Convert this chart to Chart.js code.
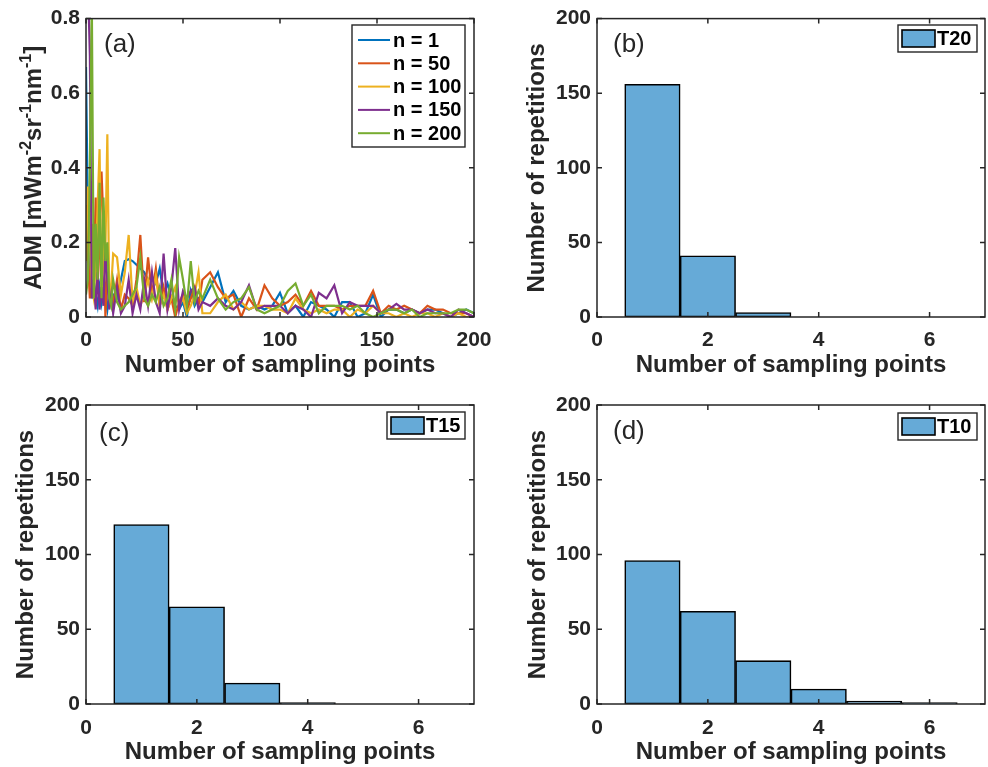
<!DOCTYPE html>
<html>
<head>
<meta charset="utf-8">
<script src="https://cdn.jsdelivr.net/npm/chart.js@4.4.1/dist/chart.umd.min.js"></script>
<style>
  body { margin: 0; background: #fff; }
  #wrap { position: relative; width: 988px; height: 767px; overflow: hidden; }
  canvas { position: absolute; }
</style>
</head>
<body>
<div id="wrap">
  <canvas id="pa" width="494" height="385" style="left:0;top:0"></canvas>
  <canvas id="pb" width="494" height="385" style="left:494px;top:0"></canvas>
  <canvas id="pc" width="494" height="382" style="left:0;top:385px"></canvas>
  <canvas id="pd" width="494" height="382" style="left:494px;top:385px"></canvas>
</div>
<script>
// sampling points (x) shared by the five ADM curves
const sampPts = [0,1,2,3,4,5,6,7,8,9,10,11,12,13,14,
  16,18,20,22,24,26,28,30,32,34,36,38,40,42,44,46,48,50,52,54,56,58,60,
  64,68,72,76,80,84,88,92,96,100,104,108,112,116,120,124,128,132,136,140,144,148,152,156,160,164,168,172,176,180,184,188,192,196,200];

const adm1 = [0.67,0.25,0.12,0.05,0.10,0.06,0.03,0.08,0.04,0.09,0.05,0.02,0.07,0.04,0.06,
  0.05,0.10,0.15,0.155,0.15,0.14,0.13,0.12,0.10,0.11,0.09,0.13,0.06,0.09,0.05,0.03,0.02,0.04,0.00,0.07,0.03,0.05,0.04,
  0.08,0.12,0.04,0.07,0.03,0.02,0.03,0.02,0.03,0.065,0.01,0.03,0.00,0.04,0.03,0.02,0.00,0.04,0.04,0.00,
  0.01,0.06,0.00,0.02,0.02,0.01,0.02,0.01,0.02,0.02,0.01,0.00,0.01,0.02,0.01];
const adm50 = [0.30,0.15,0.05,0.25,0.10,0.32,0.08,0.20,0.39,0.25,0.00,0.12,0.05,0.08,0.03,
  0.10,0.02,0.06,0.05,0.03,0.10,0.22,0.04,0.16,0.06,0.13,0.03,0.08,0.02,0.05,0.00,0.04,0.06,0.02,0.05,0.08,0.03,0.10,
  0.12,0.08,0.05,0.06,0.00,0.05,0.02,0.085,0.05,0.03,0.04,0.06,0.03,0.07,0.03,0.03,0.03,0.02,0.03,0.03,
  0.03,0.07,0.01,0.03,0.02,0.03,0.02,0.01,0.03,0.02,0.02,0.01,0.01,0.01,0.00];
const adm100 = [0.15,0.35,0.20,0.08,0.05,0.15,0.30,0.45,0.05,0.20,0.18,0.49,0.05,0.08,0.17,
  0.16,0.06,0.12,0.22,0.04,0.08,0.03,0.06,0.10,0.05,0.11,0.03,0.06,0.02,0.05,0.08,0.03,0.05,0.01,0.03,0.06,0.12,0.01,
  0.01,0.04,0.06,0.02,0.04,0.02,0.03,0.03,0.02,0.02,0.01,0.05,0.02,0.01,0.02,0.01,0.02,0.02,0.00,0.02,
  0.01,0.03,0.01,0.01,0.00,0.01,0.00,0.01,0.01,0.00,0.01,0.00,0.01,0.00,0.00];
const adm150 = [0.85,0.90,0.70,0.05,0.10,0.02,0.12,0.02,0.08,0.03,0.18,0.10,0.02,0.06,0.01,
  0.08,0.01,0.03,0.10,0.01,0.06,0.02,0.10,0.03,0.12,0.04,0.01,0.17,0.02,0.08,0.185,0.02,0.07,0.05,0.07,0.08,0.02,0.04,
  0.03,0.05,0.03,0.02,0.04,0.085,0.02,0.03,0.03,0.03,0.01,0.03,0.02,0.00,0.065,0.05,0.085,0.01,0.04,0.03,
  0.03,0.03,0.01,0.02,0.035,0.02,0.02,0.01,0.02,0.01,0.01,0.00,0.02,0.01,0.00];
const adm200 = [0.06,0.10,0.40,0.85,0.05,0.25,0.10,0.36,0.05,0.32,0.15,0.20,0.05,0.03,0.10,
  0.04,0.02,0.03,0.04,0.06,0.08,0.16,0.05,0.03,0.06,0.04,0.08,0.03,0.05,0.10,0.02,0.16,0.10,0.03,0.15,0.04,0.07,0.05,
  0.10,0.05,0.02,0.04,0.05,0.08,0.02,0.01,0.02,0.03,0.07,0.09,0.03,0.06,0.01,0.03,0.03,0.03,0.02,0.03,
  0.01,0.00,0.01,0.02,0.02,0.01,0.02,0.00,0.01,0.01,0.01,0.01,0.02,0.02,0.01];

const seriesLabels = ['n = 1', 'n = 50', 'n = 100', 'n = 150', 'n = 200'];
const seriesColors = ['#0072BD', '#D95319', '#EDB120', '#7E2F8E', '#77AC30'];

// histogram counts, bins centred on 1..6 sampling points
const binCenters = [1, 2, 3, 4, 5, 6];
const countsT20 = [156, 41, 3];
const countsT15 = [120, 65, 14, 1];
const countsT10 = [96, 62, 29, 10, 2, 1];

const FONT = '"Liberation Sans", Arial, Helvetica, sans-serif';
const INK = '#262626';
const BAR = 'rgb(102,170,215)';

// MATLAB-like box, inward ticks, panel tag and legend inside the axes
const frame = {
  id: 'frame',
  afterDatasetsDraw(chart) {
    const { ctx, chartArea: a, scales } = chart;
    const o = chart.options.plugins.frame;
    ctx.save();
    ctx.strokeStyle = INK; ctx.lineWidth = 1.5;
    ctx.strokeRect(a.left, a.top, a.right - a.left, a.bottom - a.top);
    const L = 5;
    ctx.beginPath();
    scales.x.ticks.forEach(t => {
      const p = scales.x.getPixelForValue(t.value);
      ctx.moveTo(p, a.bottom); ctx.lineTo(p, a.bottom - L);
      ctx.moveTo(p, a.top); ctx.lineTo(p, a.top + L);
    });
    scales.y.ticks.forEach(t => {
      const p = scales.y.getPixelForValue(t.value);
      ctx.moveTo(a.left, p); ctx.lineTo(a.left + L, p);
      ctx.moveTo(a.right, p); ctx.lineTo(a.right - L, p);
    });
    ctx.stroke();

    // panel tag
    ctx.fillStyle = INK;
    ctx.font = '26px ' + FONT;
    ctx.textBaseline = 'middle'; ctx.textAlign = 'left';
    ctx.fillText(o.tag, o.tagX, o.tagY);

    // legend
    const lg = o.legend;
    ctx.fillStyle = '#fff';
    ctx.fillRect(lg.x, lg.y, lg.w, lg.h);
    ctx.lineWidth = 1.4; ctx.strokeStyle = INK;
    ctx.strokeRect(lg.x, lg.y, lg.w, lg.h);
    ctx.font = 'bold 20px ' + FONT;
    chart.data.datasets.forEach((ds, i) => {
      if (lg.kind === 'line') {
        const ry = lg.y + 15 + i * 23.3;
        ctx.strokeStyle = ds.borderColor; ctx.lineWidth = 2;
        ctx.beginPath(); ctx.moveTo(lg.x + 6, ry); ctx.lineTo(lg.x + 38, ry); ctx.stroke();
        ctx.fillStyle = '#000';
        ctx.fillText(ds.label, lg.x + 41, ry + 1);
      } else {
        ctx.fillStyle = ds.backgroundColor;
        ctx.fillRect(lg.x + 4, lg.y + 5, 33, 17);
        ctx.strokeStyle = '#000'; ctx.lineWidth = 1.6;
        ctx.strokeRect(lg.x + 4, lg.y + 5, 33, 17);
        ctx.fillStyle = '#000';
        ctx.fillText(ds.label, lg.x + 39, lg.y + 14.5);
      }
    });

    // y title with superscripts (panel a)
    if (o.ytitle) {
      const mid = (a.top + a.bottom) / 2;
      const big = 'bold 24px ' + FONT, small = 'bold 16px ' + FONT;
      let total = 0;
      o.ytitle.forEach(([s, sup]) => { ctx.font = sup ? small : big; total += ctx.measureText(s).width; });
      ctx.translate(o.ytitleX, mid);
      ctx.rotate(-Math.PI / 2);
      ctx.textBaseline = 'alphabetic'; ctx.fillStyle = INK;
      let u = -total / 2;
      o.ytitle.forEach(([s, sup]) => {
        ctx.font = sup ? small : big;
        ctx.fillText(s, u, sup ? -2 : 8);
        u += ctx.measureText(s).width;
      });
    }
    ctx.restore();
  }
};

function xAxis(h, min, max, step, title, tickPad, titlePad) {
  return {
    type: 'linear', min, max, offset: false,
    grid: { display: false, drawTicks: false, offset: false },
    border: { display: false },
    ticks: { stepSize: step, includeBounds: false, padding: tickPad, color: INK, font: { family: FONT, size: 21, weight: 'bold' } },
    title: { display: true, text: title, color: INK, padding: { top: 0, bottom: titlePad },
      font: { family: FONT, size: 24, weight: 'bold', lineHeight: 1.2 } },
    // fixed height; let end labels overhang instead of shrinking the plot box
    afterFit: s => { s.height = h; s.paddingLeft = 0; s.paddingRight = 0; }
  };
}

function yAxis(w, min, max, step, title, titlePad) {
  return {
    min, max,
    grid: { display: false, drawTicks: false },
    border: { display: false },
    ticks: { stepSize: step, padding: 6, color: INK, font: { family: FONT, size: 21, weight: 'bold' } },
    title: { display: !!title, text: title, color: INK, padding: { top: titlePad, bottom: 0 },
      font: { family: FONT, size: 24, weight: 'bold', lineHeight: 1.2 } },
    afterFit: s => { s.width = w; }
  };
}

// panel (a)
const admSeries = [adm1, adm50, adm100, adm150, adm200];
new Chart(document.getElementById('pa'), {
  type: 'line',
  data: {
    datasets: admSeries.map((vals, i) => ({
      label: seriesLabels[i],
      data: sampPts.map((x, k) => ({ x, y: vals[k] })),
      borderColor: seriesColors[i],
      borderWidth: 2.2,
      pointRadius: 0,
      tension: 0,
      order: 5 - i
    }))
  },
  options: {
    responsive: false, animation: false, events: [],
    layout: { padding: { top: 16, right: 20, left: 0, bottom: 0 } },
    scales: {
      x: xAxis(68, 0, 200, 50, 'Number of sampling points', 11, 5.6),
      y: yAxis(86, 0, 0.8, 0.2, '', 0)
    },
    plugins: {
      legend: { display: false }, tooltip: { enabled: false },
      frame: {
        tag: '(a)', tagX: 104, tagY: 45,
        legend: { kind: 'line', x: 352, y: 25, w: 113, h: 122 },
        ytitle: [['ADM [mWm', 0], ['-2', 1], ['sr', 0], ['-1', 1], ['nm', 0], ['-1', 1], [']', 0]],
        ytitleX: 33
      }
    }
  },
  plugins: [frame]
});

function histPanel(id, label, counts, top, xh, tickPad, xpad, ypad, tag, tagY, legY) {
  new Chart(document.getElementById(id), {
    type: 'bar',
    data: {
      datasets: [{
        label,
        data: counts.map((c, i) => ({ x: binCenters[i], y: c })),
        backgroundColor: BAR,
        borderColor: '#000',
        borderWidth: 1.6,
        borderSkipped: false,
        barPercentage: 1,
        categoryPercentage: 1
      }]
    },
    options: {
      responsive: false, animation: false, events: [],
      layout: { padding: { top, right: id === 'pc' ? 20 : 3, left: 0, bottom: 0 } },
      scales: {
        x: xAxis(xh, 0, 7, 2, 'Number of sampling points', tickPad, xpad),
        y: yAxis(id === 'pc' ? 86 : 103, 0, 200, 50, 'Number of repetitions', ypad)
      },
      plugins: {
        legend: { display: false }, tooltip: { enabled: false },
        frame: {
          tag, tagX: id === 'pc' ? 99 : 119, tagY,
          legend: { kind: 'box', x: id === 'pc' ? 387 : 404, y: legY, w: id === 'pc' ? 78 : 79, h: 27 }
        }
      }
    },
    plugins: [frame]
  });
}

histPanel('pb', 'T20', countsT20, 16, 68, 11, 5.6, 28.6, '(b)', 45, 25);
histPanel('pc', 'T15', countsT15, 20, 63, 12, 0, 11.6, '(c)', 49, 27);
histPanel('pd', 'T10', countsT10, 20, 63, 12, 0, 29.6, '(d)', 47, 28);
</script>
</body>
</html>
